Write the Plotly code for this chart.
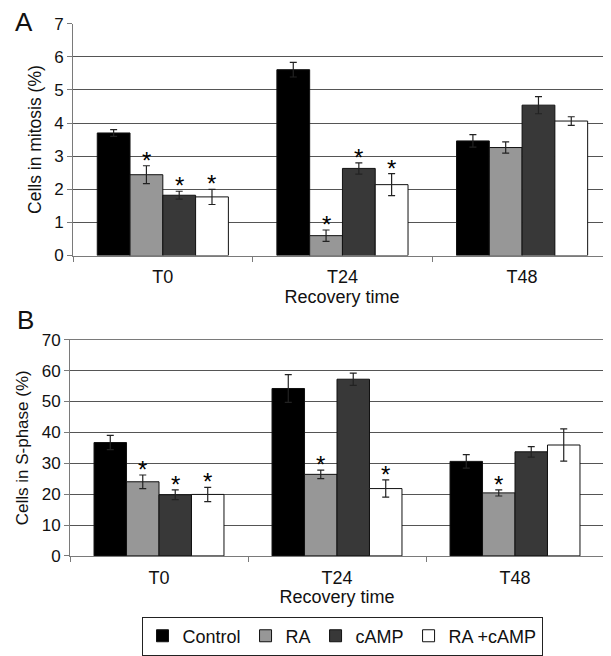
import plotly.graph_objects as go

# The page body has an 8px margin, so the figure is laid out 8px in from the page corner.
OFF = 8
FW, FH = 611 - OFF, 656 - OFF

categories = ["T0", "T24", "T48"]
series_names = ["Control", "RA", "cAMP", "RA +cAMP"]
series_colors = ["#000000", "#979797", "#383838", "#ffffff"]

# Panel A: cells in mitosis (%)
mitosis_control = [3.70, 5.61, 3.46]
mitosis_ra = [2.44, 0.60, 3.26]
mitosis_camp = [1.82, 2.63, 4.54]
mitosis_racamp = [1.77, 2.14, 4.06]
mitosis_control_err = [0.10, 0.22, 0.19]
mitosis_ra_err = [0.27, 0.17, 0.17]
mitosis_camp_err = [0.12, 0.17, 0.26]
mitosis_racamp_err = [0.23, 0.33, 0.13]
mitosis_star = [[False, False, False], [True, True, False], [True, True, False], [True, True, False]]

# Panel B: cells in S-phase (%)
sphase_control = [36.7, 54.2, 30.6]
sphase_ra = [24.0, 26.4, 20.4]
sphase_camp = [19.8, 57.2, 33.7]
sphase_racamp = [19.9, 21.8, 35.9]
sphase_control_err = [2.3, 4.5, 2.2]
sphase_ra_err = [2.2, 1.4, 1.0]
sphase_camp_err = [1.6, 2.0, 1.7]
sphase_racamp_err = [2.3, 2.8, 5.2]
sphase_star = [[False, False, False], [True, True, True], [True, False, False], [True, True, False]]

bargap = 0.27
FONT = "'Liberation Sans', Arial, Helvetica, sans-serif"


def xf(px):
    return (px - OFF) / FW


def yf(py):
    return (FH - (py - OFF)) / FH


fig = go.Figure()

panels = [
    ("x", "y", [mitosis_control, mitosis_ra, mitosis_camp, mitosis_racamp],
     [mitosis_control_err, mitosis_ra_err, mitosis_camp_err, mitosis_racamp_err], mitosis_star, True),
    ("x2", "y2", [sphase_control, sphase_ra, sphase_camp, sphase_racamp],
     [sphase_control_err, sphase_ra_err, sphase_camp_err, sphase_racamp_err], sphase_star, False),
]

xs = list(range(len(categories)))
annotations = []
bw = (1 - bargap) / len(series_names)
for xa, ya, vals, errs, stars, showleg in panels:
    for i, name in enumerate(series_names):
        fig.add_trace(go.Bar(
            x=xs, y=vals[i], name=name, xaxis=xa, yaxis=ya,
            marker=dict(color=series_colors[i], line=dict(color="#111111", width=1)),
            error_y=dict(type="data", array=errs[i], color="#222222", thickness=1.2, width=3.5),
            showlegend=showleg, offsetgroup=str(i),
        ))
        for j, c in enumerate(xs):
            if stars[i][j]:
                annotations.append(dict(
                    x=c + (i - 1.5) * bw, y=vals[i][j] + errs[i][j], xref=xa, yref=ya,
                    text="*", showarrow=False, yanchor="bottom", yshift=-10,
                    font=dict(size=24, color="#000000", family=FONT),
                ))

axis_common = dict(
    showline=True, linecolor="#7a7a7a", linewidth=1, automargin=False,
)

xaxis_common = dict(
    tickvals=xs, ticktext=categories, ticks="outside", ticklen=5, tickcolor="rgba(0,0,0,0)",
    showgrid=False, tickfont=dict(size=18, color="#111111", family=FONT),
    title=dict(text="Recovery time", font=dict(size=18, family=FONT), standoff=0),
)

yaxis_common = dict(
    showgrid=True, gridcolor="#555555", gridwidth=1.2,
    ticks="outside", ticklen=5, tickcolor="#7a7a7a",
    tickfont=dict(size=17, color="#111111", family=FONT),
)

fig.update_layout(
    width=FW, height=FH, margin=dict(l=0, r=0, t=0, b=0),
    paper_bgcolor="white", plot_bgcolor="white",
    barmode="group", bargap=bargap, bargroupgap=0,
    font=dict(family=FONT, color="#111111"),
    xaxis=dict(
        domain=[xf(73), 1.0], range=[-0.5, 2.495], anchor="y",
        minor=dict(tickmode="array", tickvals=[-0.5, 0.5, 1.5], ticks="outside", ticklen=5, tickcolor="#7a7a7a"),
        **xaxis_common, **axis_common,
    ),
    yaxis=dict(
        domain=[yf(261), yf(24)], range=[0, 7], anchor="x", dtick=1,
        title=dict(text="Cells in mitosis (%)", font=dict(size=17.5, family=FONT), standoff=8),
        **yaxis_common, **axis_common,
    ),
    xaxis2=dict(
        domain=[xf(70), xf(604)], range=[-0.5, 2.5], anchor="y2", mirror=True,
        minor=dict(tickmode="array", tickvals=[-0.5, 0.5, 1.5, 2.5], ticks="outside", ticklen=5, tickcolor="#7a7a7a"),
        **xaxis_common, **axis_common,
    ),
    yaxis2=dict(
        domain=[yf(568), yf(347)], range=[0, 70], anchor="x2", dtick=10, mirror=True,
        title=dict(text="Cells in S-phase (%)", font=dict(size=17, family=FONT), standoff=8),
        **yaxis_common, **axis_common,
    ),
    legend=dict(
        orientation="h", x=xf(342), xanchor="center", y=yf(630), yanchor="top",
        bordercolor="#222222", borderwidth=1, bgcolor="white",
        font=dict(size=18, family=FONT, color="#111111"),
        itemwidth=30, tracegroupgap=0,
    ),
)

annotations.append(dict(x=xf(24), y=yf(22), xref="paper", yref="paper", text="A", showarrow=False,
                        xanchor="center", yanchor="middle", font=dict(size=26, family=FONT, color="#111111")))
annotations.append(dict(x=xf(25), y=yf(327), xref="paper", yref="paper", text="B", showarrow=False,
                        xanchor="center", yanchor="middle", font=dict(size=26, family=FONT, color="#111111")))
fig.update_layout(annotations=annotations)

fig.write_html("out.html")
